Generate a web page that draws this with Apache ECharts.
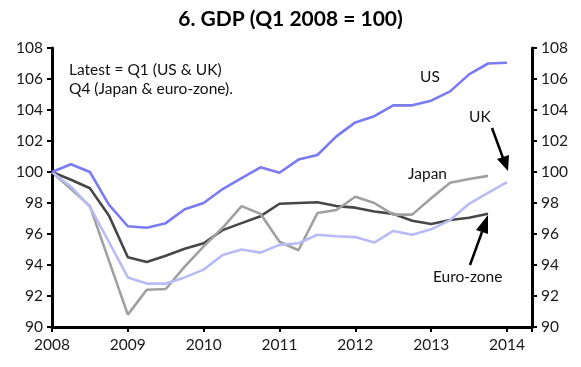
<!DOCTYPE html>
<html>
<head>
<meta charset="utf-8">
<script src="https://cdn.jsdelivr.net/npm/echarts@6/dist/echarts.min.js"></script>
<style>
html,body{margin:0;padding:0;background:#fff;}
#chart{width:581px;height:367px;}
</style>
</head>
<body>
<div id="chart"></div>
<script>
// Quarters (Q1 2008 .. Q1 2014)
var quarters = ["2008Q1","2008Q2","2008Q3","2008Q4","2009Q1","2009Q2","2009Q3","2009Q4",
  "2010Q1","2010Q2","2010Q3","2010Q4","2011Q1","2011Q2","2011Q3","2011Q4",
  "2012Q1","2012Q2","2012Q3","2012Q4","2013Q1","2013Q2","2013Q3","2013Q4","2014Q1"];
var usValues = [100, 100.5, 100.0, 97.9, 96.5, 96.4, 96.7, 97.6, 98.0, 98.9, 99.6, 100.3, 99.95,
  100.8, 101.1, 102.3, 103.2, 103.6, 104.3, 104.3, 104.6, 105.2, 106.3, 107.0, 107.05];
var ukValues = [100, 99.05, 97.75, 95.5, 93.2, 92.8, 92.8, 93.2, 93.7, 94.65, 95.0, 94.8, 95.3,
  95.4, 95.95, 95.85, 95.8, 95.45, 96.2, 95.95, 96.3, 96.9, 97.95, 98.65, 99.35];
var japanValues = [100, 98.9, 97.8, 94.3, 90.8, 92.4, 92.45, 93.9, 95.2, 96.4, 97.8, 97.3, 95.5,
  94.95, 97.35, 97.55, 98.4, 98.0, 97.25, 97.25, 98.3, 99.3, 99.55, 99.75];
var euroValues = [100, 99.5, 98.95, 97.2, 94.5, 94.2, 94.6, 95.05, 95.4, 96.25, 96.7, 97.15, 97.95,
  98.0, 98.05, 97.8, 97.7, 97.45, 97.3, 96.85, 96.65, 96.9, 97.05, 97.3];
var yearTicks = [2008, 2009, 2010, 2011, 2012, 2013, 2014];

function qPos(q){ return parseInt(q.slice(0,4),10) + (parseInt(q.slice(5),10)-1)/4; }
function pairs(vals){ return vals.map(function(v,i){ return [qPos(quarters[i]), v]; }); }

var FONT = 'Lato';
var chart = echarts.init(document.getElementById('chart'));
var yAxisCommon = {
  type:'value', min:90, max:108, interval:2,
  axisLine:{show:true, lineStyle:{color:'#000', width:3}},
  axisTick:{show:true, length:5, lineStyle:{color:'#000', width:2}},
  axisLabel:{color:'#1a1a1a', fontFamily:FONT, fontSize:15.5, margin:9},
  splitLine:{show:false}
};
function lineSeries(name, vals, color){
  return {name:name, type:'line', data:pairs(vals), symbol:'none', smooth:false,
    lineStyle:{color:color, width:2.6}, itemStyle:{color:color}, z:3};
}
var textStyle = {fill:'#111', fontFamily:FONT, fontSize:15.5};
chart.setOption({
  animation:false,
  backgroundColor:'#fff',
  title:{text:'6. GDP (Q1 2008 = 100)', left:'center', top:4,
    textStyle:{fontFamily:FONT, fontWeight:'bold', fontSize:21, color:'#000'}},
  grid:{left:52, right:49, top:48, bottom:40},
  xAxis:{type:'value', min:2008, max:2014.33, interval:1,
    axisLine:{show:true, onZero:false, lineStyle:{color:'#000', width:3}},
    axisTick:{show:true, length:5, lineStyle:{color:'#000', width:2}},
    axisLabel:{color:'#1a1a1a', fontFamily:FONT, fontSize:15.5, margin:10,
      formatter:function(v){ return yearTicks.indexOf(Math.round(v*100)/100) >= 0 ? String(v) : ''; }},
    splitLine:{show:false}},
  yAxis:[
    Object.assign({position:'left'}, yAxisCommon),
    Object.assign({position:'right'}, yAxisCommon)
  ],
  series:[
    lineSeries('Euro-zone', euroValues, '#474747'),
    lineSeries('Japan', japanValues, '#a0a0a0'),
    lineSeries('UK', ukValues, '#babaf7'),
    lineSeries('US', usValues, '#7a7af2')
  ],
  graphic:[
    {type:'text', left:69, top:62, style:Object.assign({text:'Latest = Q1 (US & UK)'}, textStyle)},
    {type:'text', left:69, top:81, style:Object.assign({text:'Q4 (Japan & euro-zone).'}, textStyle)},
    {type:'text', left:420, top:69, style:Object.assign({text:'US'}, textStyle)},
    {type:'text', left:469, top:109, style:Object.assign({text:'UK'}, textStyle)},
    {type:'text', left:408, top:166, style:Object.assign({text:'Japan'}, textStyle)},
    {type:'text', left:433, top:269, style:Object.assign({text:'Euro-zone'}, textStyle)},
    {type:'line', shape:{x1:492, y1:128, x2:503, y2:158}, style:{stroke:'#000', lineWidth:2.5}},
    {type:'polygon', shape:{points:[[497,159],[509,155],[508,171]]}, style:{fill:'#000'}},
    {type:'line', shape:{x1:470, y1:265, x2:482, y2:232}, style:{stroke:'#000', lineWidth:2.5}},
    {type:'polygon', shape:{points:[[476,230],[488,234],[488,215]]}, style:{fill:'#000'}}
  ]
});
</script>
</body>
</html>
